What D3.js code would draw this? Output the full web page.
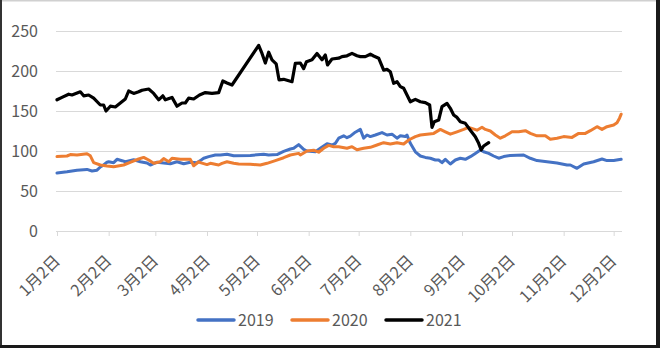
<!DOCTYPE html>
<html><head><meta charset="utf-8">
<script src="https://cdn.jsdelivr.net/npm/d3@7"></script>
<style>html,body{margin:0;padding:0;background:#fff;}svg{display:block;}</style>
</head><body>
<svg id="chart" width="660" height="348"></svg>
<script>
// x positions are day offsets from Jan 2
const monthLabels = ["1月2日","2月2日","3月2日","4月2日","5月2日","6月2日","7月2日","8月2日","9月2日","10月2日","11月2日","12月2日"];
const monthTickDays = [0,31,59,90,120,151,181,212,243,273,304,334];
const yTicks = [0,50,100,150,200,250];
const seriesNames = ["2019","2020","2021"];
const seriesColors = ["#4472C4","#ED7D31","#000000"];

const days2019 = [0,6,12,18,21,24,26,28,30,31,34,36,39,41,46,50,54,56,60,64,68,72,76,80,84,86,88,91,95,98,102,106,116,124,127,132,136,140,142,145,148,150,155,158,162,165,167,169,172,174,176,179,182,184,186,188,191,195,198,201,204,206,209,210,212,215,218,221,224,227,229,231,233,236,239,242,245,248,251,254,256,259,262,265,268,272,280,284,288,294,300,306,308,312,316,322,327,330,334,338.5];
const values2019 = [72.5,74,76,77,75,76,80,82.5,86,86.6,85.4,89.6,87.9,86.6,89,86.6,85,82.5,86,85,84,86.6,84,86,85.4,88,91,93,95,95,96,94,94.5,96,95,95.5,99.5,102.5,103.4,108,102,100,99,103.4,109,107.5,109.6,116,119,116.6,118.5,123.5,127,116,120,118,120,123,120,121,116,119,118,120,109.6,99,93.75,92,90.9,88.75,88.75,85.4,89.6,83.75,88.75,90.9,89.6,92.9,97,101.25,99,97,93.75,91,93,94.5,95,90.9,88,86.6,85,82.5,82.5,78.4,83.75,86.6,90,88,88,89.6];

const days2020 = [0,6,8,12,18,20,22,26,30,34,40,45,49,52,55,58,62,64,67,69,74,78,80,82,85,86,90,92,97,99,102,106,109,116,122,126,131,136,140,145,146,150,154,157,160,163,166,169,174,177,180,184,188,192,196,200,204,208,211,215,218,222,226,230,233,236,240,244,247,252,255,257,260,263,266,269,273,277,281,284,288,293,296,300,304,309,313,317,320,324,327,330,334,336,337.5,338.5];
const values2020 = [93,93.75,95.5,95,96.5,94,85.5,82.5,81.25,80.4,82.5,86.6,90,92,88.75,84.6,86.6,90.5,86.6,90.9,89.6,89.6,89.6,81.5,86.6,85.5,83,84.6,82.5,84.6,86.6,84.6,83.75,83.4,82.5,84.6,88,91.6,95,97,95,100,101,98.5,103.4,107,105.4,105.4,103.4,105.4,101.5,103.4,104.6,107.5,110.4,108.75,110.4,108.75,113.75,118,120,121,122,127,124,121,124,127,129.6,126,129.6,127,125,120,116,119,124,124,125.4,122,119,119,114.6,116,118,117,122,122,125.4,130.4,127,130.4,132.5,135.4,141,146];

const days2021 = [0,3,7,9,14,16,19,22,26,28,29.4,32,35,38,41,43,46,49,51,55,58,61,63.5,65,69,72,75,77,79,82,85.5,89,93,97,99.5,102,105,121,123,125,127,129,131.5,133.2,136,141,143,146,148,149.7,153,156,159,161,162.3,165,169,171,174,177,180,182,185,188,190,193,196,198,200,202,204,206,208,210,212,215,218,221,223.6,225,226.4,229,231,234,236,238,240,242,245,248,251,253,254.5,256,259];
const values2021 = [164,167,171,170,174,169,170,166,157.5,157.5,150,156,155,160,165,175,172,174,176,177.5,172,164,169,164,167,156,160,160,166,165,170,173,172,173,187.5,185,182.5,232,222,210,223.5,214,209,189,189.6,186.6,209.6,210,203,211.6,214,222,214,220,207.5,215,216,218,219,222,219,218,218,221,218.75,216,201,202,199,184.6,186.6,180.4,178.4,170,161.6,164.6,161.6,160.4,157.5,129.6,136.6,138.75,155.4,159.6,153.4,145,142,136.6,134.6,126,117.9,109.6,101.25,106.25,110.4];

const seriesDays = [days2019, days2020, days2021];
const seriesValues = [values2019, values2020, values2021];

const svg = d3.select("#chart");
const W = 660, H = 348;

// frame
svg.append("rect").attr("x",0).attr("y",0).attr("width",W).attr("height",H).attr("fill","#fff");
svg.append("rect").attr("x",0).attr("y",0).attr("width",W).attr("height",1.5).attr("fill","#d0d0d0");
svg.append("rect").attr("x",0).attr("y",0).attr("width",2).attr("height",H).attr("fill","#333");
svg.append("rect").attr("x",656).attr("y",0).attr("width",4).attr("height",H).attr("fill","#1a1a1a");
svg.append("rect").attr("x",0).attr("y",345).attr("width",W).attr("height",3).attr("fill","#1a1a1a");

const x = d3.scaleLinear().domain([0, 339]).range([57, 622]);
const y = d3.scaleLinear().domain([0, 250]).range([231, 31]);

const font = "'Noto Sans CJK SC','Noto Sans',sans-serif";

// gridlines
const yAxis = d3.axisLeft(y).tickValues(yTicks).tickSize(-(622 - 56)).tickPadding(18);
const gy = svg.append("g").attr("transform","translate(56,0)").call(yAxis);
gy.select(".domain").remove();
gy.selectAll(".tick line").attr("stroke","#d9d9d9").attr("stroke-width",1);
gy.selectAll(".tick text").attr("fill","#595959").style("font-family",font).style("font-size","16px");

// x axis
const xAxis = d3.axisBottom(x).tickValues(monthTickDays).tickFormat((d,i)=>monthLabels[i]).tickSize(5).tickSizeOuter(0);
const gx = svg.append("g").attr("transform","translate(0,231)").call(xAxis);
gx.select(".domain").attr("stroke","#d9d9d9").attr("d","M56,0.5H622");
gx.selectAll(".tick line").attr("stroke","#d9d9d9");
gx.selectAll(".tick text")
  .attr("fill","#595959")
  .style("font-family",font).style("font-size","16px")
  .attr("text-anchor","end")
  .attr("dy",null)
  .attr("transform","translate(3.5,31) rotate(-45)")
  .attr("x",0).attr("y",0);

// lines
const lineGen = d3.line().x(d=>x(d[0])).y(d=>y(d[1])).curve(d3.curveLinear);
seriesNames.forEach((name,i)=>{
  const pts = seriesDays[i].map((d,j)=>[d, seriesValues[i][j]]);
  svg.append("path").datum(pts)
    .attr("fill","none").attr("stroke",seriesColors[i])
    .attr("stroke-width", i===2 ? 3.2 : 3)
    .attr("stroke-linejoin","round").attr("stroke-linecap","round")
    .attr("d",lineGen);
});

// legend
const legendX = [198, 292, 386];
const leg = svg.append("g");
seriesNames.forEach((name,i)=>{
  leg.append("line").attr("x1",legendX[i]).attr("x2",legendX[i]+36)
    .attr("y1",320).attr("y2",320).attr("stroke",seriesColors[i]).attr("stroke-width",3.5).attr("stroke-linecap","round");
  leg.append("text").attr("x",legendX[i]+40).attr("y",320).attr("dy","0.35em")
    .attr("fill","#595959").style("font-family",font).style("font-size","16px").text(name);
});
</script>
</body></html>
